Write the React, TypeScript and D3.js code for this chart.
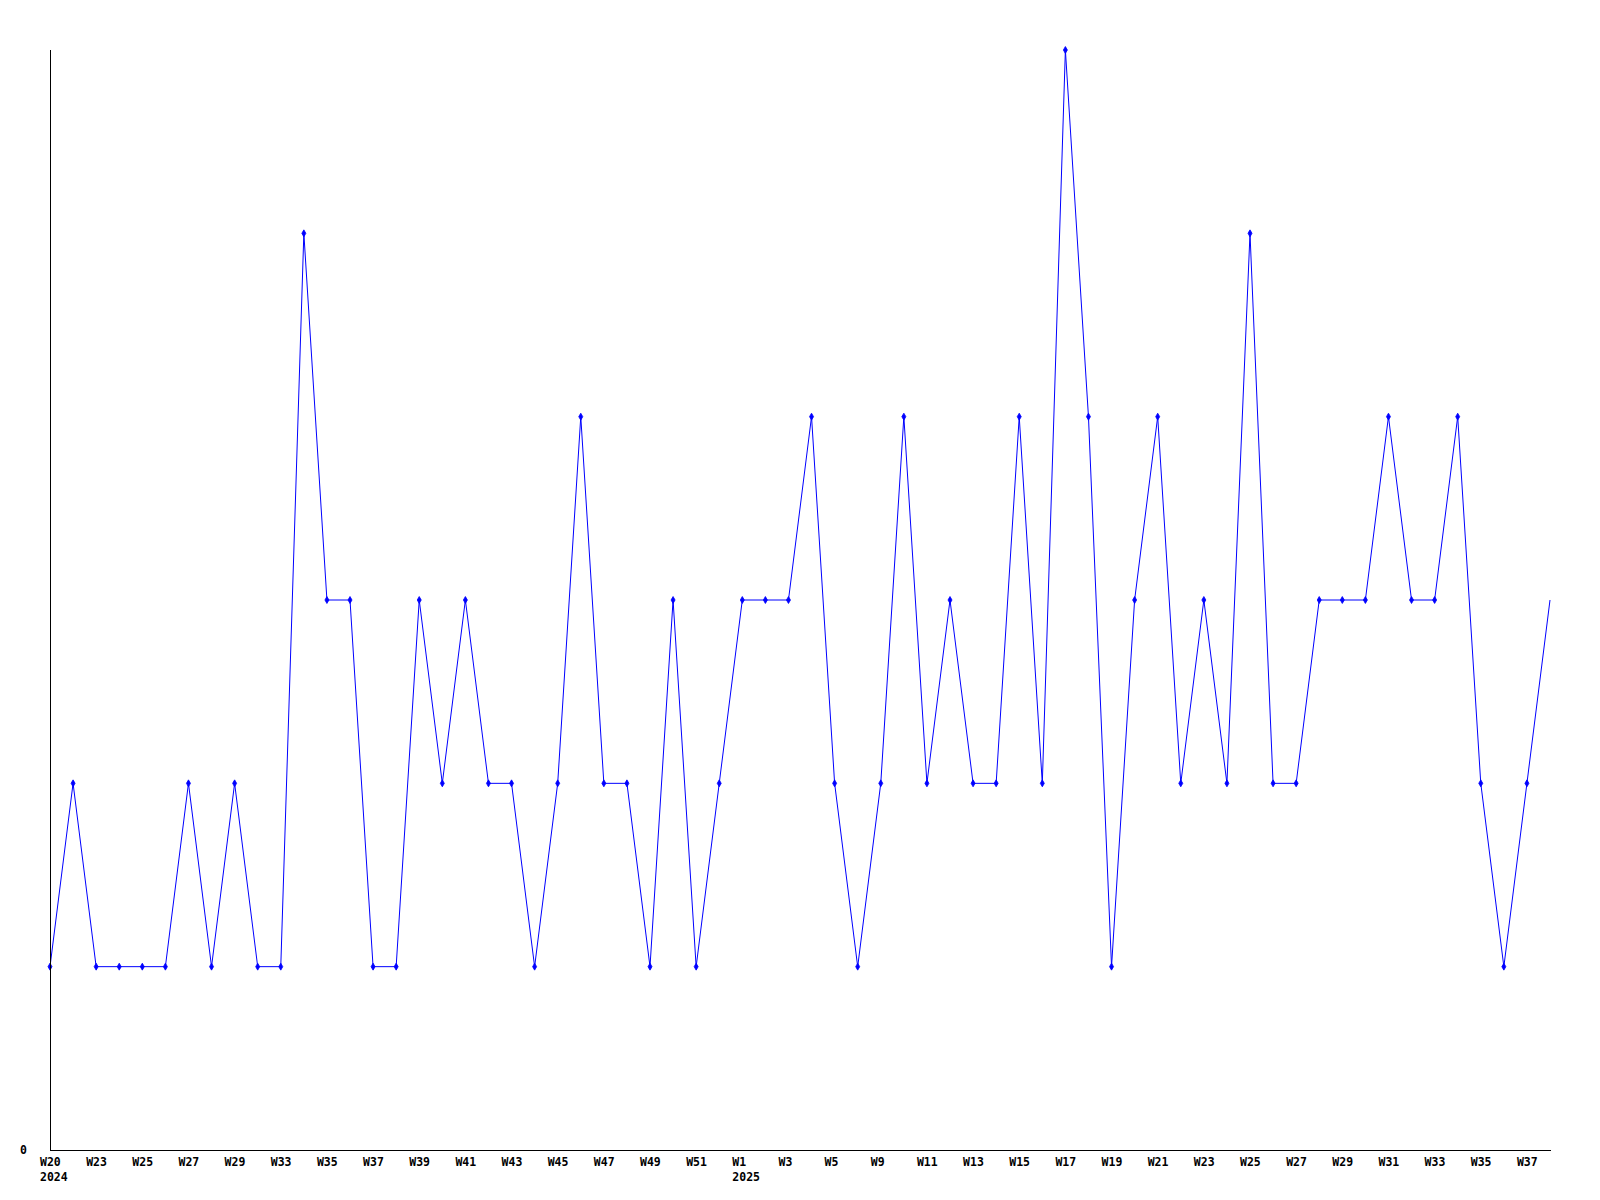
import React from "react";
import * as d3 from "d3";

const weeks: string[] = [
  "W20", "W22", "W23", "W24", "W25", "W26", "W27", "W28", "W29", "W31",
  "W33", "W34", "W35", "W36", "W37", "W38", "W39", "W40", "W41", "W42",
  "W43", "W44", "W45", "W46", "W47", "W48", "W49", "W50", "W51", "W52",
  "W1", "W2", "W3", "W4", "W5", "W7", "W9", "W10", "W11", "W12",
  "W13", "W14", "W15", "W16", "W17", "W18", "W19", "W20", "W21", "W22",
  "W23", "W24", "W25", "W26", "W27", "W28", "W29", "W30", "W31", "W32",
  "W33", "W34", "W35", "W36", "W37", "W38",
];

const yearLabels: { index: number; year: string }[] = [
  { index: 0, year: "2024" },
  { index: 30, year: "2025" },
];

const values: number[] = [
  1, 2, 1, 1, 1, 1, 2, 1, 2, 1,
  1, 5, 3, 3, 1, 1, 3, 2, 3, 2,
  2, 1, 2, 4, 2, 2, 1, 3, 1, 2,
  3, 3, 3, 4, 2, 1, 2, 4, 2, 3,
  2, 2, 4, 2, 6, 4, 1, 3, 4, 2,
  3, 2, 5, 2, 2, 3, 3, 3, 4, 3,
  3, 4, 2, 1, 2, 3,
];

const yTicks: number[] = [0];

export default function App() {
  const W = 1600;
  const H = 1200;
  const left = 50;
  const right = 1551;
  const top = 50;
  const bottom = 1150;

  const idx = values.map((_, i) => i);
  const x = d3.scalePoint<number>().domain(idx).range([left, right - 1]);
  const y = d3.scaleLinear().domain([0, 6]).range([bottom, top]);

  const line = d3
    .line<number>()
    .x((_, i) => x(i) as number)
    .y((d) => y(d));

  const font = "'DejaVu Sans Mono', monospace";

  return (
    <svg
      width={W}
      height={H}
      style={{ position: "absolute", left: 0, top: 0, background: "#fff" }}
    >
      <rect x={0} y={0} width={W} height={H} fill="#fff" />
      <path d={line(values) || ""} fill="none" stroke="#0000ff" strokeWidth={1} />
      {values.map((v, i) =>
        i === values.length - 1 ? null : (
          <path
            key={i}
            d={d3.symbol(d3.symbolDiamond, 14)() || ""}
            transform={`translate(${x(i)},${y(v)})`}
            fill="#0000ff"
            stroke="#0000ff"
            strokeWidth={0.8}
          />
        )
      )}
      <line x1={left} y1={top} x2={left} y2={bottom} stroke="#000" strokeWidth={1} shapeRendering="crispEdges" />
      <line x1={left} y1={bottom} x2={right} y2={bottom} stroke="#000" strokeWidth={1} shapeRendering="crispEdges" />
      {yTicks.map((t) => (
        <text
          key={t}
          x={20}
          y={y(t) + 4}
          fontFamily={font}
          fontWeight="bold"
          fontSize={11.5}
          fill="#000"
        >
          {t}
        </text>
      ))}
      {weeks.map((w, i) =>
        i % 2 === 0 ? (
          <text
            key={i}
            x={(x(i) as number) - 10}
            y={1166}
            fontFamily={font}
            fontWeight="bold"
            fontSize={11.5}
            fill="#000"
          >
            {w}
          </text>
        ) : null
      )}
      {yearLabels.map((yl) => (
        <text
          key={yl.year}
          x={(x(yl.index) as number) - 10}
          y={1181}
          fontFamily={font}
          fontWeight="bold"
          fontSize={11.5}
          fill="#000"
        >
          {yl.year}
        </text>
      ))}
    </svg>
  );
}
